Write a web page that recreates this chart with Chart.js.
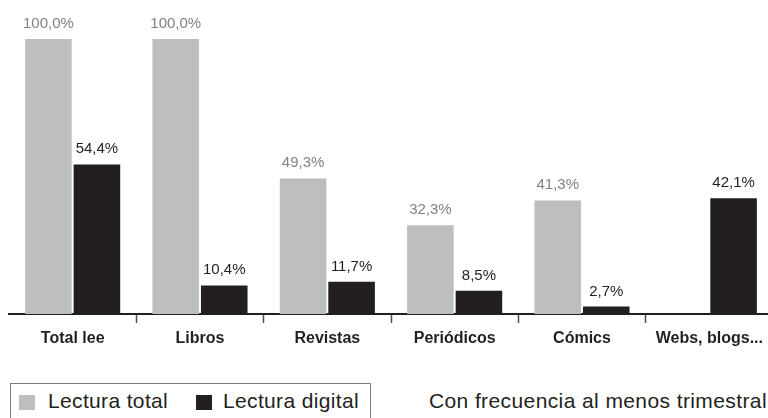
<!DOCTYPE html>
<html>
<head>
<meta charset="utf-8">
<script src="https://cdn.jsdelivr.net/npm/chart.js@4/dist/chart.umd.min.js"></script>
<style>
  html, body { margin: 0; padding: 0; background: #fff; }
  #wrap { position: relative; width: 768px; height: 418px; overflow: hidden; font-family: "Liberation Sans", Arial, sans-serif; color: #231f20; }
  #cv { position: absolute; left: 0; top: 0; }
  #legend { position: absolute; left: 10px; top: 383px; width: 361px; height: 60px; border: 1.5px solid #7d7e80; box-sizing: border-box; }
  .sw { position: absolute; width: 16px; height: 15px; top: 11px; }
  .lt { position: absolute; top: 4px; font-size: 21px; line-height: 25px; letter-spacing: 0.35px; white-space: nowrap; }
  #note { position: absolute; right: 1px; top: 388px; font-size: 21px; line-height: 25px; letter-spacing: 0.4px; white-space: nowrap; }
</style>
</head>
<body>
<div id="wrap">
  <canvas id="cv" width="776" height="370" style="width:776px;height:370px"></canvas>
  <div id="legend"></div>
  <div id="note"></div>
</div>
<script>
const categories = ["Total lee", "Libros", "Revistas", "Periódicos", "Cómics", "Webs, blogs..."];
const lecturaTotal = [100.0, 100.0, 49.3, 32.3, 41.3, null];
const lecturaDigital = [54.4, 10.4, 11.7, 8.5, 2.7, 42.1];
const seriesNames = ["Lectura total", "Lectura digital"];
const noteText = "Con frecuencia al menos trimestral";

const GRAY = "#bcbec0";
const DARK = "#231f20";
const LABEL_GRAY = "#808285";

// legend + note (HTML text)
const legend = document.getElementById("legend");
const items = [
  { name: seriesNames[0], color: GRAY, sx: 8, tx: 37 },
  { name: seriesNames[1], color: DARK, sx: 185, tx: 212 }
];
items.forEach(it => {
  const s = document.createElement("div");
  s.className = "sw"; s.style.left = it.sx + "px"; s.style.background = it.color;
  legend.appendChild(s);
  const t = document.createElement("div");
  t.className = "lt"; t.style.left = it.tx + "px"; t.textContent = it.name;
  legend.appendChild(t);
});
document.getElementById("note").textContent = noteText;

const valueLabels = {
  id: "valueLabels",
  afterDatasetsDraw(chart) {
    const ctx = chart.ctx;
    ctx.save();
    ctx.font = "15px 'Liberation Sans', Arial, sans-serif";
    ctx.textAlign = "center";
    ctx.textBaseline = "alphabetic";
    chart.data.datasets.forEach((ds, di) => {
      const meta = chart.getDatasetMeta(di);
      meta.data.forEach((bar, i) => {
        const v = ds.data[i];
        if (v === null || v === undefined) return;
        ctx.fillStyle = di === 0 ? LABEL_GRAY : DARK;
        ctx.fillText(v.toFixed(1).replace(".", ",") + "%", bar.x, bar.y - 11);
      });
    });
    ctx.restore();
  }
};

new Chart(document.getElementById("cv"), {
  type: "bar",
  data: {
    labels: categories,
    datasets: [
      { label: seriesNames[0], data: lecturaTotal, backgroundColor: GRAY },
      { label: seriesNames[1], data: lecturaDigital, backgroundColor: DARK }
    ]
  },
  options: {
    responsive: false,
    animation: false,
    events: [],
    categoryPercentage: 0.762,
    barPercentage: 0.96,
    layout: { padding: { left: 9, right: 3, top: 0, bottom: 0 } },
    plugins: { legend: { display: false }, tooltip: { enabled: false } },
    scales: {
      y: { display: false, min: 0, max: 114.2 },
      x: {
        afterFit(scale) { scale.height = 56; },
        grid: {
          offset: true,
          drawOnChartArea: false,
          drawTicks: true,
          tickLength: 9,
          tickWidth: 1.5,
          tickColor: (c) => c.index === 0 ? "rgba(0,0,0,0)" : "#4d4d4f"
        },
        border: { display: true, color: DARK, width: 2 },
        ticks: {
          color: DARK,
          padding: 6,
          font: { family: "'Liberation Sans', Arial, sans-serif", size: 16, weight: "bold" }
        }
      }
    }
  },
  plugins: [valueLabels]
});
</script>
</body>
</html>
